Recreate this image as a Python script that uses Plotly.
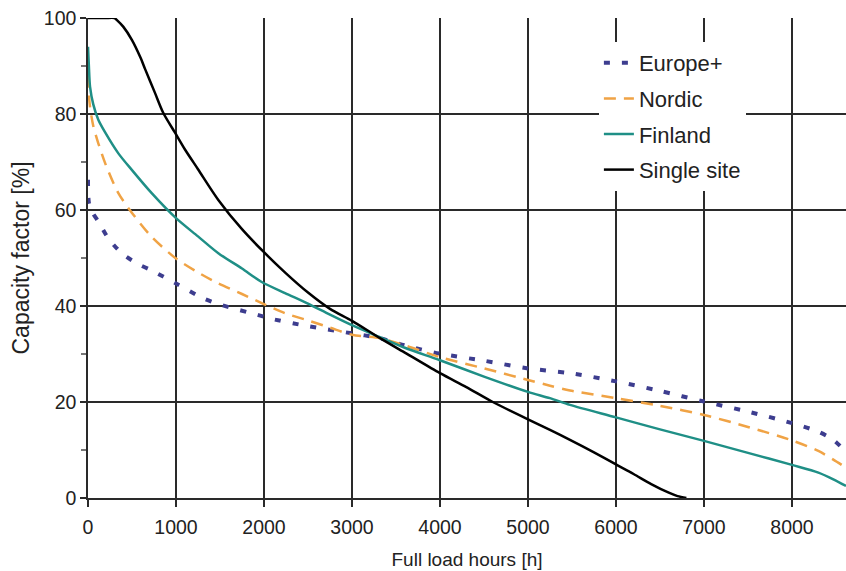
import plotly.graph_objects as go

# Single site
single_h = [0, 100, 200, 300, 326, 400, 500, 600, 648, 761, 856, 989, 1102, 1250, 1481, 1750, 2000,
            2250, 2500, 2750, 3000, 3318, 3600, 4000, 4300, 4600, 5000, 5250, 5477, 5750,
            6000, 6200, 6400, 6600, 6700, 6800]
single_cf = [100, 100, 100, 100, 99.6, 98.2, 95.4, 91.6, 89.4, 84.4, 80.2, 76.1, 72.6, 68.5, 62.1, 56, 51.2,
             46.8, 42.8, 39.4, 36.9, 33.3, 30.3, 26, 23.1, 20.0, 16.4, 14.2, 12.1, 9.5,
             7.0, 5.0, 2.9, 1.1, 0.4, 0]

# Finland
fin_h = [0, 10, 23, 60, 117, 200, 345, 500, 724, 1000, 1250, 1481, 1750, 1974, 2239, 2500,
         2750, 3000, 3318, 3600, 3992, 4500, 5000, 5250, 5477, 6000, 6500, 7000, 7500, 8000,
         8300, 8470, 8614]
fin_cf = [94, 90, 85.7, 82, 78.8, 76, 71.8, 68.3, 63.5, 58.3, 54.5, 51, 47.8, 45, 42.7, 40.5,
          38.2, 36, 33.5, 31.3, 28.75, 25.3, 22.1, 20.8, 19.4, 16.8, 14.3, 11.9, 9.4, 6.9,
          5.3, 3.9, 2.5]

# Nordic
nor_h = [0, 10, 23, 60, 117, 200, 345, 500, 724, 1000, 1250, 1481, 1750, 1974, 2239, 2500,
         2750, 3000, 3318, 3600, 3992, 4500, 5000, 5250, 5477, 6000, 6500, 7000, 7500, 8000,
         8300, 8470, 8614]
nor_cf = [88, 84, 81.5, 77.5, 73.9, 69.5, 63.5, 59.4, 54.4, 49.9, 47, 44.7, 42.5, 40.6, 38.5,
          37, 35.5, 34, 33.3, 31.8, 29.4, 27, 24.6, 23.4, 22.4, 20.8, 19.2, 17.3, 14.8, 12.0,
          9.8, 8.0, 6.3]

# Europe+
eur_h = [0, 11, 50, 117, 231, 383, 553, 724, 1000, 1311, 1519, 1936, 2068, 2500, 3000, 3318,
         3600, 3992, 4500, 5000, 5477, 6000, 6500, 7000, 7500, 8000, 8300, 8470, 8614]
eur_cf = [66.3, 61.4, 59.5, 57.6, 54.1, 51, 48.9, 47.4, 44.7, 41.6, 40.2, 38.1, 37.4, 35.8,
          34.3, 33.3, 31.8, 30.1, 28.6, 27, 26, 24.3, 22.3, 20.1, 18, 15.6, 13.8, 12.1, 9.6]

x_ticks = [0, 1000, 2000, 3000, 4000, 5000, 6000, 7000, 8000]
y_ticks = [0, 20, 40, 60, 80, 100]

FONT = "Liberation Sans, Arial, sans-serif"
GRID = "#2a2a2a"

fig = go.Figure()
fig.add_trace(go.Scatter(x=eur_h, y=eur_cf, mode="lines", name="Europe+", legendgroup="a",
                         line=dict(color="#3d3d8f", width=4, dash="6px,12px",
                                   shape="spline", smoothing=0.8)))
fig.add_trace(go.Scatter(x=nor_h, y=nor_cf, mode="lines", name="Nordic", legendgroup="b",
                         line=dict(color="#f0a345", width=2.5, dash="12px,8px",
                                   shape="spline", smoothing=0.8)))
fig.add_trace(go.Scatter(x=fin_h, y=fin_cf, mode="lines", name="Finland", legendgroup="c",
                         line=dict(color="#1f8f86", width=2.5, shape="spline", smoothing=0.8)))
fig.add_trace(go.Scatter(x=single_h, y=single_cf, mode="lines", name="Single site", legendgroup="d",
                         line=dict(color="#000000", width=2.5, shape="spline", smoothing=0.8)))

fig.update_layout(
    width=846, height=571,
    margin=dict(l=88, r=0, t=18, b=73),
    paper_bgcolor="white", plot_bgcolor="white",
    font=dict(family=FONT, size=19, color="#222"),
    showlegend=True,
    legend=dict(x=0.674, y=0.950, xanchor="left", yanchor="top",
                bgcolor="white", borderwidth=0, tracegroupgap=4,
                font=dict(size=22, color="#222")),
    xaxis=dict(range=[0, 8614], tickvals=x_ticks, ticks="outside", ticklen=7,
               tickcolor=GRID, tickwidth=1.5, ticklabelstandoff=4,
               showgrid=True, gridcolor=GRID, gridwidth=1.5,
               showline=True, linecolor=GRID, linewidth=1.5,
               zeroline=False,
               title=dict(text="Full load hours [h]", font=dict(size=19), standoff=16),
               tickfont=dict(size=19.5)),
    yaxis=dict(range=[0, 100], tickvals=y_ticks, ticks="outside", ticklen=6,
               tickcolor=GRID, tickwidth=1.5,
               showgrid=True, gridcolor=GRID, gridwidth=1.5,
               showline=True, linecolor=GRID, linewidth=1.5,
               zeroline=False,
               minor=dict(tickvals=[10, 30, 50, 70, 90], ticks="outside", ticklen=5,
                          tickcolor="#777", showgrid=False),
               title=dict(text="Capacity factor [%]", font=dict(size=23), standoff=8),
               tickfont=dict(size=19.5)),
)

fig.write_html("out.html")
